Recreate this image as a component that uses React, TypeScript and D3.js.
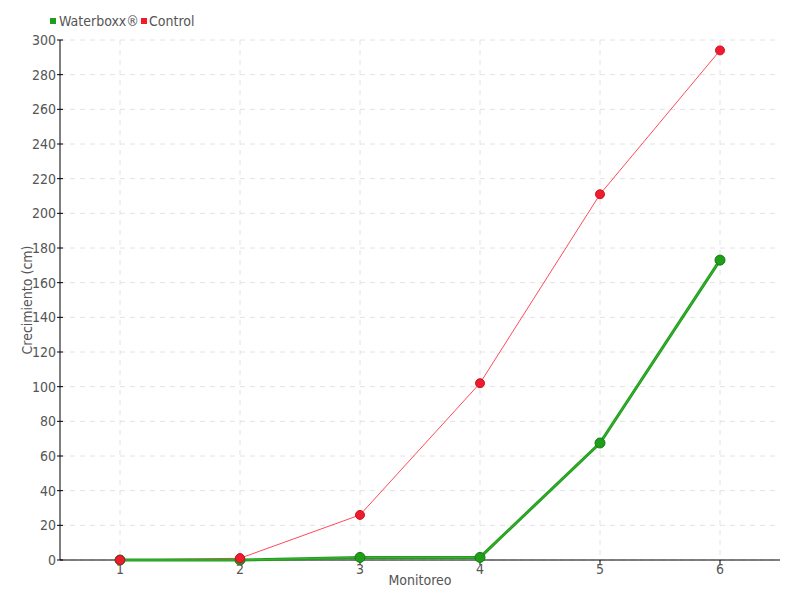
import React from "react";
import * as d3 from "d3";

const categories = [1, 2, 3, 4, 5, 6];
const waterboxx = [0, 0, 1.5, 1.5, 67.5, 173];
const control = [0, 1, 26, 102, 211, 294];
const yTicks = d3.range(0, 301, 20);
const seriesNames = ["Waterboxx®", "Control"];

const W = 800, H = 600;
const M = { left: 60, right: 20, top: 40, bottom: 40 };
const FONT = "'Liberation Sans Narrow', 'DejaVu Sans Condensed', 'Roboto', sans-serif";

export default function App() {
  const x = d3.scaleLinear().domain([0.5, 6.5]).range([M.left, W - M.right]);
  const y = d3.scaleLinear().domain([0, 300]).range([H - M.bottom, M.top]);
  const line = d3.line<number>().x((_, i) => x(categories[i])).y((d) => y(d));
  const green = "#1f9e1a";
  const red = "#ee1c2e";
  return (
    <svg width={W} height={H} style={{ position: "absolute", left: 0, top: 0 }} fontFamily={FONT}>
      <rect width={W} height={H} fill="#fff" />
      {yTicks.map((t) => (
        <line key={"gy" + t} x1={M.left} x2={W - M.right} y1={y(t)} y2={y(t)} stroke="#e2e2e2" strokeDasharray="5,5" />
      ))}
      {categories.map((c) => (
        <line key={"gx" + c} x1={x(c)} x2={x(c)} y1={M.top} y2={H - M.bottom} stroke="#e2e2e2" strokeDasharray="5,5" />
      ))}
      <line x1={M.left} x2={M.left} y1={M.top} y2={H - M.bottom} stroke="#000" />
      <line x1={M.left} x2={W - M.right} y1={H - M.bottom} y2={H - M.bottom} stroke="#000" />
      {yTicks.map((t) => (
        <g key={"ty" + t}>
          <line x1={M.left - 3} x2={M.left + 3} y1={y(t)} y2={y(t)} stroke="#000" />
          <text x={M.left - 4} y={y(t)} dy="0.35em" textAnchor="end" fontSize={14} fill="#555">{t}</text>
        </g>
      ))}
      {categories.map((c) => (
        <g key={"tx" + c}>
          <line x1={x(c)} x2={x(c)} y1={H - M.bottom} y2={H - M.bottom + 5} stroke="#000" />
          <text x={x(c)} y={H - M.bottom + 14} textAnchor="middle" fontSize={14} fill="#555">{c}</text>
        </g>
      ))}
      <text x={(M.left + W - M.right) / 2} y={585} textAnchor="middle" fontSize={14} fill="#555">Monitoreo</text>
      <text transform={`translate(32,${(M.top + H - M.bottom) / 2}) rotate(-90)`} textAnchor="middle" fontSize={14} fill="#555">Crecimiento (cm)</text>
      <path d={line(control) || ""} fill="none" stroke="#ff4a5a" strokeWidth={1} />
      {control.map((v, i) => (
        <circle key={"c" + i} cx={x(categories[i])} cy={y(v)} r={4.5} fill={red} stroke="#d01020" strokeWidth={1} />
      ))}
      <path d={line(waterboxx) || ""} fill="none" stroke={green} strokeWidth={3} />
      <path d={line(waterboxx) || ""} fill="none" stroke="#7cd070" strokeWidth={0.6} opacity={0.6} />
      {waterboxx.map((v, i) => (
        <circle key={"w" + i} cx={x(categories[i])} cy={y(v)} r={5} fill={green} stroke="#167a14" strokeWidth={1} />
      ))}
      {control.slice(0, 2).map((v, i) => (
        <circle key={"c2" + i} cx={x(categories[i])} cy={y(v)} r={4.5} fill={red} stroke="#d01020" strokeWidth={1} />
      ))}
      <g>
        <rect x={50} y={18} width={6} height={6} fill={green} />
        <text x={59} y={21} dy="0.35em" fontSize={14} fill="#555">{seriesNames[0]}</text>
        <rect x={141} y={18} width={6} height={6} fill={red} />
        <text x={149} y={21} dy="0.35em" fontSize={14} fill="#555">{seriesNames[1]}</text>
      </g>
    </svg>
  );
}
